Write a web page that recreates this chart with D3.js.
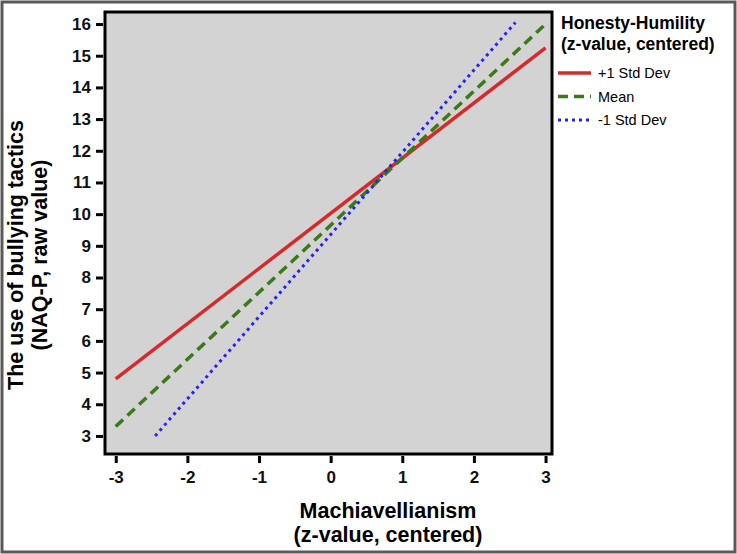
<!DOCTYPE html>
<meta charset="utf-8">
<style>
body { margin: 0; background: #fff; }
text { font-family: "Liberation Sans", Arial, sans-serif; }
.tick text { font-weight: bold; font-size: 17px; fill: #111; }
</style>
<svg width="737" height="554"></svg>
<script src="https://d3js.org/d3.v7.min.js"></script>
<script>

// moderator levels and the two end points of each simple slope
var series = ["+1 Std Dev", "Mean", "-1 Std Dev"];
var xStart = [-3, -3, -2.45];
var xEnd = [3, 3, 2.58];
var yStart = [4.8, 3.3, 3.0];
var yEnd = [15.25, 16.0, 16.05];

var xTicks = [-3, -2, -1, 0, 1, 2, 3];
var yTicks = [3, 4, 5, 6, 7, 8, 9, 10, 11, 12, 13, 14, 15, 16];

var colors = ["#d62a2a", "#3b7a17", "#2323f5"];
var dashes = ["none", "10,6", "3,4"];

var svg = d3.select("svg");

// outer frame
svg.append("rect")
    .attr("x", 2).attr("y", 2)
    .attr("width", 733).attr("height", 550)
    .attr("fill", "#fff")
    .attr("stroke", "#5a5a5a")
    .attr("stroke-width", 3);

var pLeft = 105, pTop = 12, pRight = 552, pBottom = 454;

var x = d3.scaleLinear().domain([-3.15, 3.09]).range([pLeft, pRight]);
var y = d3.scaleLinear().domain([2.43, 16.38]).range([pBottom, pTop]);

svg.append("rect")
    .attr("x", pLeft).attr("y", pTop)
    .attr("width", pRight - pLeft).attr("height", pBottom - pTop)
    .attr("fill", "#d3d3d3");

// axes (ticks offset outside the frame)
var fmt = function(d) { return String(d); };
var xAxis = svg.append("g")
    .attr("transform", "translate(0," + (pBottom + 2) + ")")
    .call(d3.axisBottom(x).tickValues(xTicks).tickFormat(fmt).tickSize(7).tickPadding(8));
var yAxis = svg.append("g")
    .attr("transform", "translate(" + (pLeft - 2) + ",0)")
    .call(d3.axisLeft(y).tickValues(yTicks).tickFormat(fmt).tickSize(7).tickPadding(5));

[xAxis, yAxis].forEach(function(g) {
  g.select(".domain").remove();
  g.selectAll(".tick line").attr("stroke", "#000").attr("stroke-width", 3);
});

// lines
svg.append("clipPath").attr("id", "clip")
  .append("rect")
    .attr("x", pLeft).attr("y", pTop)
    .attr("width", pRight - pLeft).attr("height", pBottom - pTop);

series.forEach(function(s, i) {
  svg.append("line")
      .attr("clip-path", "url(#clip)")
      .attr("x1", x(xStart[i])).attr("y1", y(yStart[i]))
      .attr("x2", x(xEnd[i])).attr("y2", y(yEnd[i]))
      .attr("stroke", colors[i])
      .attr("stroke-width", i == 2 ? 3 : 3.5)
      .attr("stroke-dasharray", dashes[i]);
});

// plot frame
svg.append("rect")
    .attr("x", pLeft).attr("y", pTop)
    .attr("width", pRight - pLeft).attr("height", pBottom - pTop)
    .attr("fill", "none")
    .attr("stroke", "#000")
    .attr("stroke-width", 3);

// legend
var legend = svg.append("g");
legend.append("text")
    .attr("x", 561).attr("y", 29)
    .attr("font-weight", "bold").attr("font-size", 17.5)
    .text("Honesty-Humility");
legend.append("text")
    .attr("x", 561).attr("y", 50)
    .attr("font-weight", "bold").attr("font-size", 17.5)
    .text("(z-value, centered)");

series.forEach(function(s, i) {
  var ly = 73 + i * 23.5;
  legend.append("line")
      .attr("x1", 558).attr("x2", 591)
      .attr("y1", ly).attr("y2", ly)
      .attr("stroke", colors[i])
      .attr("stroke-width", i == 2 ? 3 : 3.5)
      .attr("stroke-dasharray", dashes[i]);
  legend.append("text")
      .attr("x", 598).attr("y", ly + 5)
      .attr("font-size", 14.5)
      .text(s);
});

// axis titles
var xt = svg.append("text")
    .attr("text-anchor", "middle")
    .attr("font-weight", "bold").attr("font-size", 21.5);
xt.append("tspan").attr("x", 388).attr("y", 518).text("Machiavellianism");
xt.append("tspan").attr("x", 388).attr("y", 542).text("(z-value, centered)");

var yt = svg.append("text")
    .attr("transform", "translate(0,255) rotate(-90)")
    .attr("text-anchor", "middle")
    .attr("font-weight", "bold").attr("font-size", 21.5);
yt.append("tspan").attr("x", 0).attr("y", 23).text("The use of bullying tactics");
yt.append("tspan").attr("x", 0).attr("y", 47).text("(NAQ-P, raw value)");

</script>
